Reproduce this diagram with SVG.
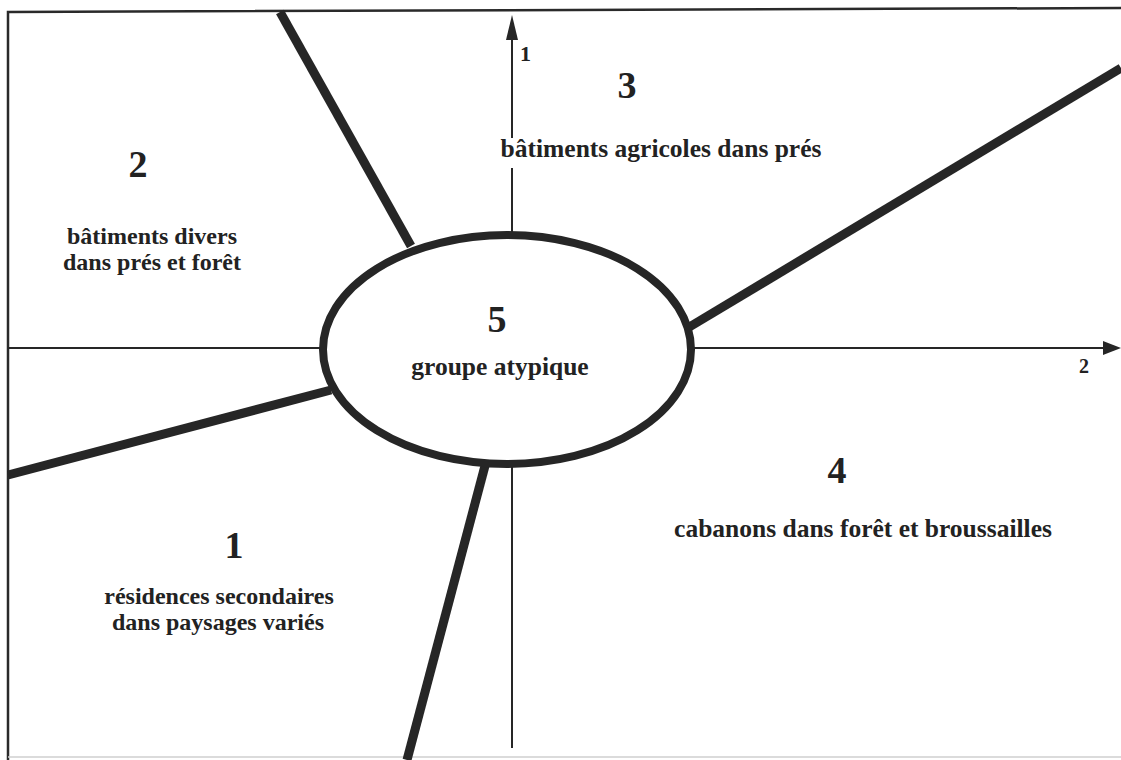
<svg xmlns="http://www.w3.org/2000/svg" width="1121" height="760" viewBox="0 0 1121 760">
  <style>
    .lbl { font-family: "Liberation Serif", "Times New Roman", serif; font-weight: bold; fill: #222; text-anchor: middle; }
    .num { font-size: 38px; }
    .txt { font-size: 25.5px; }
    .txt2 { font-size: 24px; }
    .axn { font-size: 22px; text-anchor: start; }
    .thick { stroke: #262626; stroke-width: 9; fill: none; stroke-linecap: butt; }
    .axis { stroke: #262626; stroke-width: 2; fill: none; }
    .frame { stroke: #2a2a2a; stroke-width: 2.5; fill: none; }
  </style>
  <defs>
    <marker id="arrV" markerUnits="userSpaceOnUse" viewBox="0 0 25 12" refX="0" refY="6" markerWidth="25" markerHeight="12" orient="auto">
      <path d="M0,0 L25,6 L0,12 z" fill="#262626"/>
    </marker>
    <marker id="arrH" markerUnits="userSpaceOnUse" viewBox="0 0 18 14" refX="0" refY="7" markerWidth="18" markerHeight="14" orient="auto">
      <path d="M0,0 L18,7 L0,14 z" fill="#262626"/>
    </marker>
  </defs>
  <rect width="1121" height="760" fill="#ffffff"/>
  <g id="frame">
    <path class="frame" d="M8,760 L8,12 L1121,8"/>
    <line x1="8" y1="757" x2="1121" y2="757" stroke="#cfcfcf" stroke-width="1.5"/>
  </g>
  <g id="connectors">
    <line id="axis-1" class="axis" x1="512" y1="748" x2="512" y2="40" marker-end="url(#arrV)"/>
    <line id="axis-2" class="axis" x1="8" y1="348" x2="1103" y2="348" marker-end="url(#arrH)"/>
    <line id="border-2-3" class="thick" x1="280" y1="12" x2="411" y2="246"/>
    <line id="border-3-4" class="thick" x1="686" y1="329" x2="1121" y2="68"/>
    <line id="border-1-2" class="thick" x1="8" y1="475" x2="331" y2="390"/>
    <line id="border-1-4" class="thick" x1="486" y1="462" x2="407" y2="760"/>
  </g>
  <g id="axis-labels">
    <text class="lbl axn" x="520" y="61">1</text>
    <text class="lbl axn" x="1079" y="373" style="font-size:20px">2</text>
  </g>
  <g id="node-5">
    <ellipse cx="507" cy="349.5" rx="184" ry="114.5" fill="#ffffff" stroke="#262626" stroke-width="8"/>
    <text class="lbl num" x="497" y="332">5</text>
    <text class="lbl txt" x="500" y="375">groupe atypique</text>
  </g>
  <g id="node-3">
    <rect x="504" y="138" width="14" height="30" fill="#ffffff"/>
    <text class="lbl num" x="627" y="98">3</text>
    <text class="lbl txt" x="661" y="157">bâtiments agricoles dans prés</text>
  </g>
  <g id="node-2">
    <text class="lbl num" x="138" y="177">2</text>
    <text class="lbl txt2" x="152" y="244">bâtiments divers</text>
    <text class="lbl txt2" x="152" y="270">dans prés et forêt</text>
  </g>
  <g id="node-1">
    <text class="lbl num" x="234" y="558">1</text>
    <text class="lbl txt2" x="219" y="604">résidences secondaires</text>
    <text class="lbl txt2" x="218" y="630">dans paysages variés</text>
  </g>
  <g id="node-4">
    <text class="lbl num" x="837" y="483">4</text>
    <text class="lbl txt" x="863" y="537">cabanons dans forêt et broussailles</text>
  </g>
</svg>
